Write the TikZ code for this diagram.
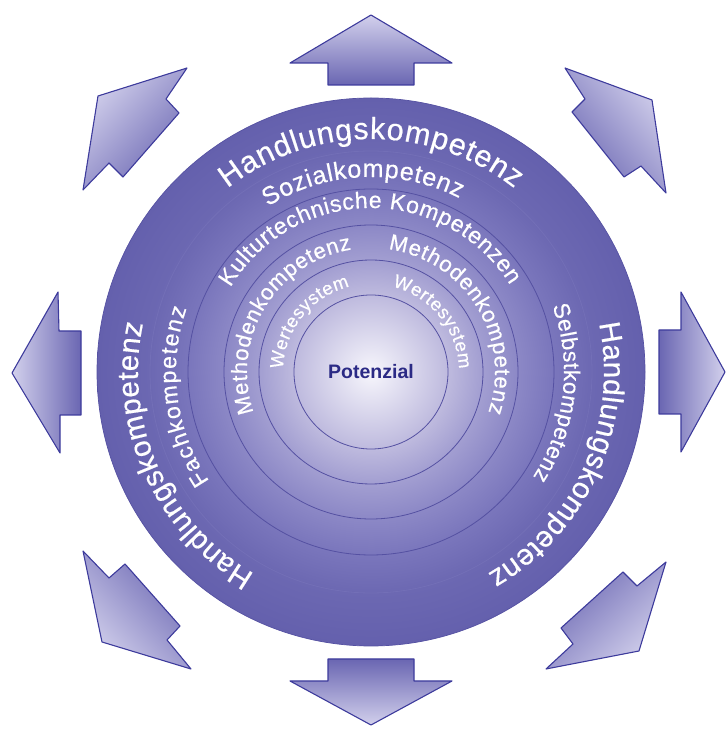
\documentclass[tikz,border=0pt]{standalone}
\usepackage{fontspec}
\setmainfont{Liberation Sans}
\newfontfamily\arcfont{Liberation Sans}[FakeBold=0.5]
\usetikzlibrary{decorations.text}
\definecolor{s0}{HTML}{F7F6FC}
\definecolor{s1}{HTML}{BEBADE}
\definecolor{s2}{HTML}{A29ED1}
\definecolor{s3}{HTML}{8C88C6}
\definecolor{s4}{HTML}{7A76BC}
\definecolor{s5}{HTML}{6C68B2}
\definecolor{s6}{HTML}{6460AD}
\definecolor{ringline}{HTML}{5551A2}
\definecolor{arrowline}{HTML}{3D3B9C}
\definecolor{arrowlight}{HTML}{D2D0EC}
\definecolor{arrowdark}{HTML}{6A66B2}
\definecolor{potcol}{HTML}{2B2A85}
\pgfdeclareradialshading{diskshade}{\pgfpoint{0bp}{0bp}}{color(0bp)=(s0); color(7.03bp)=(s1); color(10.22bp)=(s2); color(13.41bp)=(s3); color(16.7bp)=(s4); color(20.16bp)=(s5); color(25bp)=(s6); color(50bp)=(s6)}
\tikzset{
  ringtext/.style={decorate, decoration={text along path, text={#1}, text align={fit to path}, text color=white}},
  arrowshape/.style={draw=arrowline, line width=1.1pt, line join=round, top color=arrowlight, bottom color=arrowdark, shading angle=#1},
  ring/.style={draw=ringline, line width=0.8pt}
}
% size, radius, start angle, end angle, text
\newcommand{\arctext}[5]{{\arcfont\fontsize{#1}{#1}\selectfont
  \path[ringtext={#5}] (#3:#2pt) arc[start angle=#3, end angle=#4, radius=#2pt];}}
\begin{document}
\begin{tikzpicture}[x=1pt,y=1pt]
\useasboundingbox (0,0) rectangle (727,734);
% straight arrows
\path[arrowshape=0] (371,719) -- (452,671) -- (414,671) -- (414,649) -- (328,649) -- (328,671) -- (290,671) -- cycle;
\path[arrowshape=180] (371,9) -- (452,53) -- (414,53) -- (414,75) -- (328,75) -- (328,53) -- (290,53) -- cycle;
\path[arrowshape=90] (12,361) -- (58,442) -- (59,403) -- (81,403) -- (81,319) -- (60,319) -- (60,281) -- cycle;
\path[arrowshape=-90] (725,362) -- (681,442) -- (681,404) -- (659,404) -- (659,320) -- (681,320) -- (681,282) -- cycle;
% diagonal arrows
\path[arrowshape=47] (187,666) -- (98,638) -- (83,544) -- (109,571) -- (123,557) -- (179,621) -- (166,635) -- cycle;
\path[arrowshape=-50] (565,666) -- (652,634) -- (666,541) -- (641,568) -- (624,557) -- (572,622) -- (585,635) -- cycle;
\path[arrowshape=133] (83,183) -- (109,156) -- (125,170) -- (180,108) -- (167,94) -- (191,65) -- (102,92) -- cycle;
\path[arrowshape=-137] (666,172) -- (637,148) -- (623,162) -- (561,106) -- (573,90) -- (546,65) -- (639,83) -- cycle;
\begin{scope}[shift={(371,362)}]
  \shade[shading=diskshade] (0,0) circle (274pt);
  \draw[draw=ringline, line width=0.7pt] (0,0) circle (274pt);
  \draw[draw=s4, line width=0.8pt, opacity=0.5] (0,0) circle (221pt);
  \foreach \r in {183,147,112,77} \draw[ring] (0,0) circle (\r pt);
  \arctext{30.5}{233}{128}{52}{Handlungskompetenz}
  \arctext{25}{195}{122}{63}{Sozialkompetenz}
  \arctext{23}{164}{149}{32}{Kulturtechnische Kompetenzen}
  \arctext{22}{124}{199}{99}{Methodenkompetenz}
  \arctext{22}{124}{82}{-19}{Methodenkompetenz}
  \arctext{18.5}{88}{178}{104}{Wertesystem}
  \arctext{18.5}{88}{76}{2}{Wertesystem}
  \arctext{23}{195}{214}{161}{Fachkompetenz}
  \arctext{22.5}{193}{20}{-33}{Selbstkompetenz}
  \arctext{29.5}{233}{240}{168}{Handlungskompetenz}
  \arctext{29.5}{233}{12}{-60}{Handlungskompetenz}
  \node[text=potcol, font=\bfseries\fontsize{19.5}{19.5}\selectfont] (pot) at (0,0) {Potenzial};
\end{scope}
\end{tikzpicture}
\end{document}
